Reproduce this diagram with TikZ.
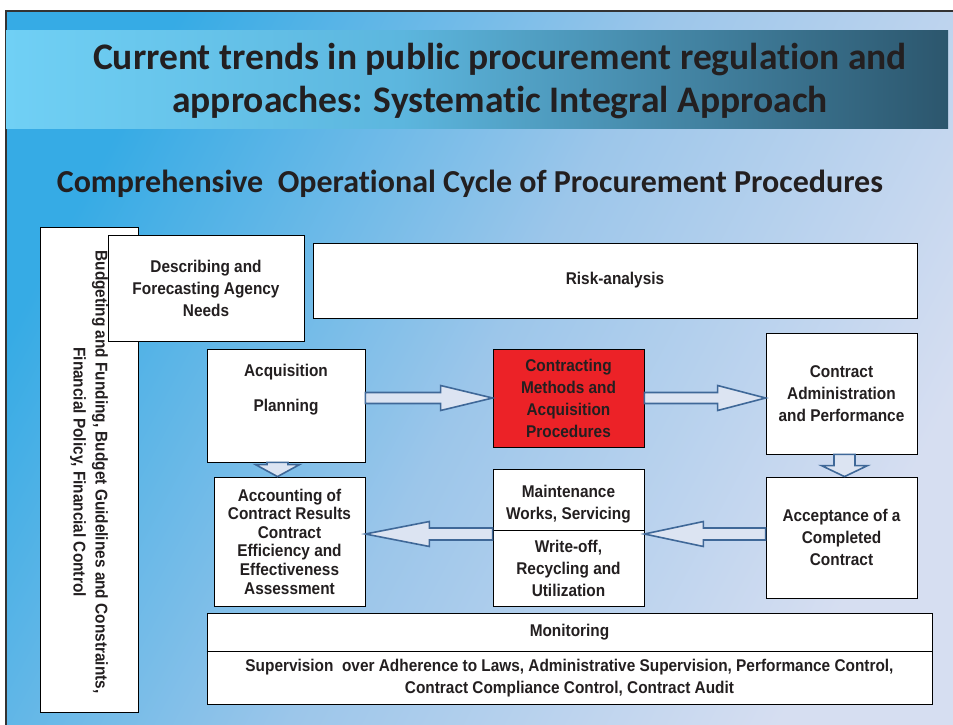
\documentclass[tikz,border=0pt]{standalone}
\usepackage{fontspec}
\usetikzlibrary{calc}
\newfontfamily\boxfont{Liberation Sans}[FakeStretch=0.905]
\newfontfamily\titlefont{Carlito}[Ligatures=NoCommon]
\definecolor{bgA}{HTML}{36ABE5}
\definecolor{bgB}{HTML}{9CC6EA}
\definecolor{bgC}{HTML}{D6DEF1}
\definecolor{tA}{HTML}{70D0F5}
\definecolor{tB}{HTML}{5CB6DE}
\definecolor{tC}{HTML}{2C566D}
\definecolor{txt}{HTML}{231F20}
\definecolor{arrowfill}{HTML}{DCE4F2}
\definecolor{arrowline}{HTML}{3F6898}
\definecolor{redbox}{HTML}{EC2227}
\pgfdeclarehorizontalshading{titleshade}{100bp}{color(0bp)=(tA); color(25bp)=(tA); color(46bp)=(tB); color(75bp)=(tC); color(100bp)=(tC)}
\tikzset{
  box/.style={draw=black, line width=0.8bp, fill=white, text=txt, align=center, inner sep=0pt,
    font=\boxfont\bfseries\fontsize{17bp}{22bp}\selectfont},
  boxtext/.style={text=txt, align=center, inner sep=0pt,
    font=\boxfont\bfseries\fontsize{17bp}{22bp}\selectfont},
  barrow/.style={fill=arrowfill, draw=arrowline, line width=1.6bp, line join=miter},
}
\newcommand\hblock[5]{%
  \draw[barrow] ($(#1)+(0,-#4)$) -- ($(#2)+(#3,-#4)$) -- ($(#2)+(#3,-#5)$) -- (#2)
    -- ($(#2)+(#3,#5)$) -- ($(#2)+(#3,#4)$) -- ($(#1)+(0,#4)$) -- cycle;}
\newcommand\vblock[5]{%
  \draw[barrow] ($(#1)+(-#4,0)$) -- ($(#2)+(-#4,#3)$) -- ($(#2)+(-#5,#3)$) -- (#2)
    -- ($(#2)+(#5,#3)$) -- ($(#2)+(#4,#3)$) -- ($(#1)+(#4,0)$) -- cycle;}
\begin{document}
\begin{tikzpicture}[x=1bp, y=-1bp]
\useasboundingbox (0,0) rectangle (953,725);
\fill[white] (0,0) rectangle (953,725);
\shade[top color=bgA, bottom color=bgC, middle color=bgB, shading angle=62] (6,11) rectangle (953,725);
\draw[line width=1.5bp, color=black!80] (6,725) -- (6,11) -- (953,11);
% title bar
\shade[shading=titleshade] (6,31) rectangle (948,129);
\node[font=\titlefont\bfseries\fontsize{37.5bp}{43bp}\selectfont, text=txt, align=center, inner sep=0pt]
  (title) at (500,81) {Current trends in public procurement regulation and\\approaches: Systematic Integral Approach};
\node[font=\titlefont\bfseries\fontsize{32bp}{34bp}\selectfont, text=txt, inner sep=0pt]
  (subtitle) at (470,184) {Comprehensive\ \ Operational Cycle of Procurement Procedures};
% boxes
\node[box, minimum width=98bp, minimum height=485bp] (budget) at (89,469.5) {};
\node[boxtext, rotate=-90] (budgettxt) at (89,472)
  {Budgeting and Funding, Budget Guidelines and Constraints,\\Financial Policy, Financial Control};
\node[box, minimum width=196bp, minimum height=106bp] (desc) at (206,288) {Describing and\\Forecasting Agency\\Needs};
\node[box, minimum width=604bp, minimum height=75bp] (risk) at (615,280.5) {Risk-analysis};
\node[box, minimum width=158bp, minimum height=113bp] (acq) at (286,405.5) {};
\node[boxtext] (acqtxt) at (286,390) {Acquisition\\[13bp]Planning};
\node[box, fill=redbox, minimum width=151bp, minimum height=98bp] (red) at (568.5,398)
  {Contracting\\Methods and\\Acquisition\\Procedures};
\node[box, minimum width=151bp, minimum height=121bp] (cadmin) at (841.5,393.5)
  {Contract\\Administration\\and Performance};
\node[box, minimum width=151bp, minimum height=121bp] (accept) at (841.5,537.5)
  {Acceptance of a\\Completed\\Contract};
\node[box, minimum width=151bp, minimum height=129bp,
  font=\boxfont\bfseries\fontsize{17bp}{18.6bp}\selectfont] (accnt) at (289.5,541.5)
  {Accounting of\\Contract Results\\Contract\\Efficiency and\\Effectiveness\\Assessment};
\node[box, minimum width=151bp, minimum height=137bp] (maint) at (568.5,537.5) {};
\coordinate (maintdiv) at (568.5,530);
\draw[line width=0.8bp] (maint.west |- maintdiv) -- (maint.east |- maintdiv);
\node[boxtext] (mainta) at (568.5,504) {Maintenance\\Works, Servicing};
\node[boxtext] (maintb) at (568.5,568.5) {Write-off,\\Recycling and\\Utilization};
\node[box, minimum width=725bp, minimum height=91bp] (monitor) at (569.5,658.5) {};
\coordinate (mondiv) at (569.5,651);
\draw[line width=0.8bp] (monitor.west |- mondiv) -- (monitor.east |- mondiv);
\node[boxtext] (mona) at (569.5,632.5) {Monitoring};
\node[boxtext] (monb) at (569.5,678)
  {Supervision\ \ over Adherence to Laws, Administrative Supervision, Performance Control,\\Contract Compliance Control, Contract Audit};
% block arrows
\coordinate (a1s) at (acq.east |- red.west);
\hblock{a1s}{red.west}{-52}{5.5}{12.5}
\coordinate (a2e) at (cadmin.west |- red.east);
\hblock{red.east}{a2e}{-48}{5.5}{12.5}
\coordinate (a3s) at ($(accept.west)+(0,-3.5)$);
\coordinate (a3e) at (maint.east |- a3s);
\hblock{a3s}{a3e}{59}{6}{12.5}
\coordinate (a4e) at (accnt.east |- a3s);
\coordinate (a4s) at (maint.west |- a3s);
\hblock{a4s}{a4e}{64}{6}{12.5}
\coordinate (a5s) at ($(acq.south)+(-8.5,0)$);
\coordinate (a5e) at (a5s |- accnt.north);
\vblock{a5s}{a5e}{-12}{10.5}{22}
\coordinate (a6s) at ($(cadmin.south)+(3,0)$);
\coordinate (a6e) at (a6s |- accept.north);
\vblock{a6s}{a6e}{-11}{10.5}{23}
\end{tikzpicture}
\end{document}
